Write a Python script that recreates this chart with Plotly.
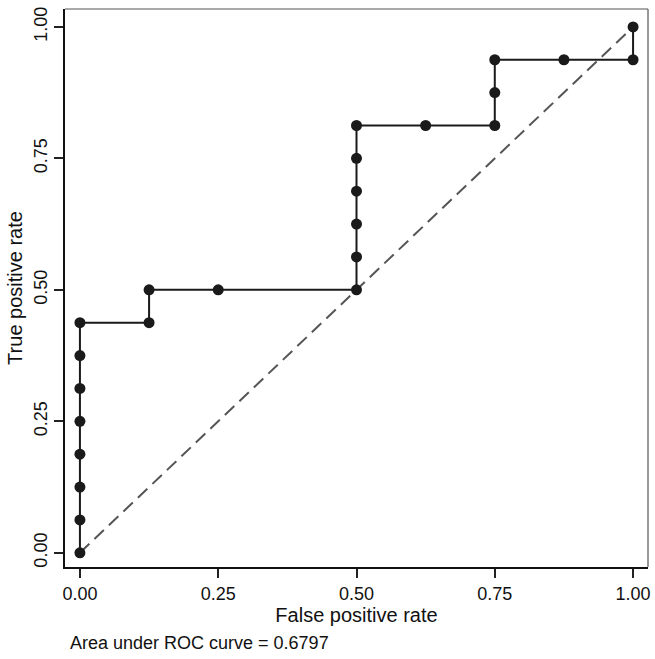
import plotly.graph_objects as go

fpr = [0.0, 0.0, 0.0, 0.0, 0.0, 0.0, 0.0, 0.0, 0.125, 0.125, 0.25, 0.5, 0.5, 0.5, 0.5, 0.5, 0.5, 0.625, 0.75, 0.75, 0.75, 0.875, 1.0, 1.0]
tpr = [0.0, 0.0625, 0.125, 0.1875, 0.25, 0.3125, 0.375, 0.4375, 0.4375, 0.5, 0.5, 0.5, 0.5625, 0.625, 0.6875, 0.75, 0.8125, 0.8125, 0.8125, 0.875, 0.9375, 0.9375, 0.9375, 1.0]
ref_x = [0.0, 1.0]
ref_y = [0.0, 1.0]
tick_vals = [0.0, 0.25, 0.5, 0.75, 1.0]
tick_text = ["0.00", "0.25", "0.50", "0.75", "1.00"]
auc_text = "Area under ROC curve = 0.6797"

fig = go.Figure()
fig.add_trace(go.Scatter(x=ref_x, y=ref_y, mode="lines",
                         line=dict(color="#555555", width=2, dash="13px,7px"),
                         hoverinfo="skip", showlegend=False))
fig.add_trace(go.Scatter(x=fpr, y=tpr, mode="lines+markers",
                         line=dict(color="#1a1a1a", width=2, shape="linear"),
                         marker=dict(color="#1a1a1a", size=11),
                         showlegend=False))

font = "Liberation Sans, Arial, sans-serif"
fig.update_layout(
    width=655, height=659,
    margin=dict(l=65, r=4, t=9, b=92),
    paper_bgcolor="white", plot_bgcolor="white",
    font=dict(family=font, size=18, color="#111111"),
    xaxis=dict(range=[-0.027, 1.027], tickvals=tick_vals, ticktext=tick_text,
               ticks="outside", ticklen=9, tickwidth=1.5, tickcolor="#222222",
               showgrid=False, zeroline=False, showline=True, linecolor="#111111",
               linewidth=2, mirror=False,
               title=dict(text="False positive rate", standoff=2, font=dict(size=20))),
    yaxis=dict(range=[-0.027, 1.034], tickvals=tick_vals, ticktext=tick_text,
               tickangle=-90,
               ticks="outside", ticklen=9, tickwidth=1.5, tickcolor="#222222",
               showgrid=False, zeroline=False, showline=True, linecolor="#111111",
               linewidth=2, mirror=False,
               title=dict(text="True positive rate", standoff=3, font=dict(size=20))),
    shapes=[
        dict(type="line", xref="paper", yref="paper", x0=0, x1=1, y0=1, y1=1,
             line=dict(color="#555555", width=1.2)),
        dict(type="line", xref="paper", yref="paper", x0=1, x1=1, y0=0, y1=1,
             line=dict(color="#555555", width=1.2)),
    ],
    annotations=[dict(text=auc_text, xref="paper", yref="paper", x=0.005, y=-0.136,
                      xanchor="left", yanchor="middle", showarrow=False,
                      font=dict(size=18, family=font, color="#111111"))],
)

fig.write_html("out.html")
